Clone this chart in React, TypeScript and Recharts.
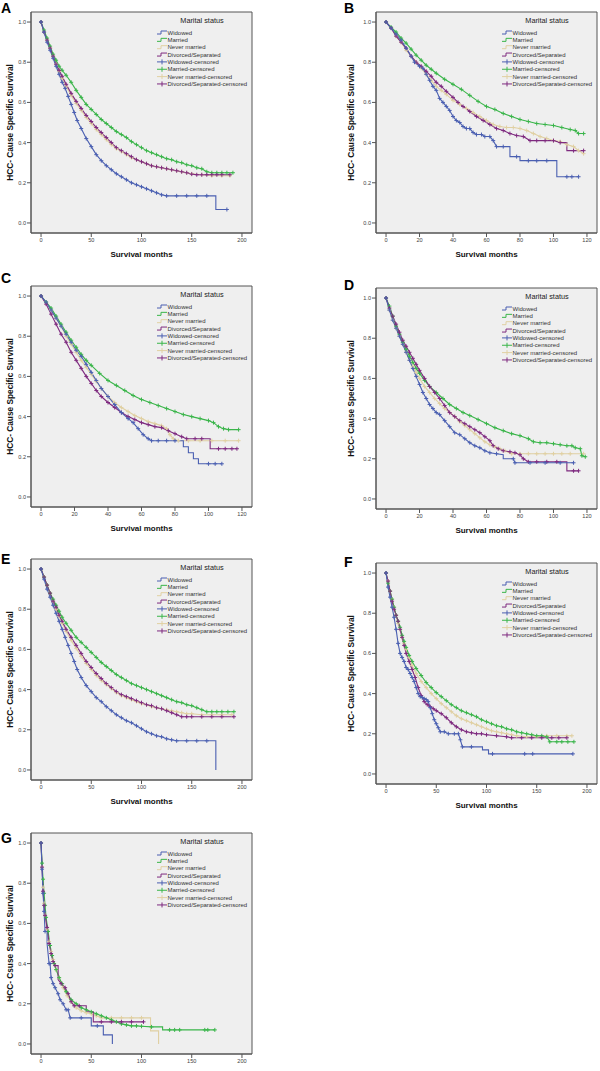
import React from 'react';
import { LineChart, Line, XAxis, YAxis, CartesianGrid, ReferenceArea, Label } from 'recharts';

type Pt = [number, number];

const seriesNames = ['Widowed', 'Married', 'Never married', 'Divorced/Separated'];
const legendLabels = [...seriesNames, ...seriesNames.map((n) => n + '-censored')];
const xTicks200 = [0, 50, 100, 150, 200];
const xTicks120 = [0, 20, 40, 60, 80, 100, 120];
const yTicks = [0, 0.2, 0.4, 0.6, 0.8, 1.0];

// ---------- Panel A ----------
const A_widowed: Pt[] = [[0,1],[3,0.95],[6,0.9],[9,0.86],[12,0.82],[15,0.78],[18,0.74],[21,0.7],[24,0.67],[27,0.63],[30,0.59],[33,0.55],[36,0.51],[40,0.47],[45,0.42],[50,0.38],[55,0.34],[60,0.31],[65,0.285],[70,0.265],[75,0.245],[80,0.23],[85,0.215],[90,0.2],[95,0.19],[100,0.18],[105,0.17],[110,0.16],[115,0.15],[120,0.14],[125,0.135],[135,0.135],[145,0.135],[155,0.135],[165,0.135],[174,0.135],[174,0.067],[185,0.067]];
const A_married: Pt[] = [[0,1],[3,0.96],[6,0.92],[9,0.88],[12,0.84],[15,0.81],[18,0.78],[21,0.76],[25,0.735],[30,0.7],[35,0.66],[40,0.625],[45,0.59],[50,0.565],[55,0.54],[60,0.515],[65,0.495],[70,0.475],[75,0.455],[80,0.44],[85,0.425],[90,0.405],[95,0.39],[100,0.375],[105,0.36],[110,0.35],[115,0.34],[120,0.33],[125,0.32],[130,0.315],[135,0.305],[140,0.3],[145,0.29],[150,0.285],[155,0.275],[160,0.27],[165,0.255],[170,0.25],[175,0.25],[180,0.25],[185,0.25],[191,0.25]];
const A_never: Pt[] = [[0,1],[3,0.95],[6,0.91],[9,0.87],[12,0.83],[15,0.79],[18,0.755],[21,0.72],[25,0.68],[30,0.635],[35,0.595],[40,0.56],[45,0.525],[50,0.495],[55,0.465],[60,0.44],[65,0.415],[70,0.39],[75,0.37],[80,0.355],[85,0.34],[90,0.325],[95,0.315],[100,0.305],[105,0.295],[110,0.285],[115,0.28],[120,0.275],[125,0.27],[130,0.265],[135,0.26],[140,0.255],[145,0.25],[150,0.245],[160,0.24],[170,0.235],[180,0.235],[188,0.235]];
const A_divorced: Pt[] = [[0,1],[3,0.95],[6,0.91],[9,0.87],[12,0.83],[15,0.79],[18,0.76],[21,0.73],[25,0.69],[30,0.645],[35,0.605],[40,0.57],[45,0.535],[50,0.505],[55,0.475],[60,0.45],[65,0.425],[70,0.4],[75,0.375],[80,0.36],[85,0.345],[90,0.33],[95,0.315],[100,0.305],[105,0.295],[110,0.285],[115,0.28],[120,0.275],[125,0.27],[130,0.265],[135,0.26],[140,0.255],[145,0.25],[150,0.243],[155,0.24],[160,0.24],[165,0.24],[170,0.24],[175,0.24],[180,0.24],[188,0.24]];

// ---------- Panel B ----------
const B_widowed: Pt[] = [[0,1],[3,0.97],[6,0.94],[9,0.91],[12,0.87],[15,0.83],[17,0.8],[20,0.78],[22,0.77],[24,0.74],[26,0.71],[28,0.68],[30,0.66],[32,0.62],[34,0.6],[36,0.58],[38,0.56],[40,0.53],[42,0.51],[44,0.5],[46,0.48],[48,0.47],[50,0.47],[52,0.45],[54,0.44],[57,0.44],[59,0.43],[62,0.43],[64,0.41],[66,0.38],[70,0.38],[74,0.38],[74,0.33],[78,0.33],[80,0.33],[80,0.31],[85,0.31],[90,0.31],[96,0.31],[102,0.31],[102,0.23],[108,0.23],[111,0.23],[115,0.23]];
const B_married: Pt[] = [[0,1],[3,0.975],[6,0.95],[9,0.92],[12,0.895],[15,0.865],[18,0.835],[21,0.81],[24,0.785],[27,0.765],[30,0.745],[35,0.715],[40,0.69],[45,0.665],[50,0.635],[55,0.605],[60,0.58],[65,0.565],[70,0.545],[75,0.53],[80,0.515],[85,0.505],[90,0.495],[95,0.49],[100,0.485],[105,0.475],[110,0.465],[113,0.46],[115,0.445],[118,0.445]];
const B_never: Pt[] = [[0,1],[3,0.97],[6,0.93],[9,0.9],[12,0.86],[15,0.83],[18,0.8],[21,0.77],[24,0.74],[27,0.71],[30,0.68],[33,0.66],[36,0.64],[40,0.61],[44,0.59],[48,0.57],[52,0.55],[56,0.53],[60,0.51],[64,0.49],[68,0.48],[72,0.475],[76,0.475],[80,0.47],[84,0.46],[88,0.445],[92,0.43],[96,0.42],[100,0.41],[104,0.405],[108,0.39],[112,0.38],[115,0.36],[118,0.345]];
const B_divorced: Pt[] = [[0,1],[3,0.97],[6,0.93],[9,0.9],[12,0.87],[15,0.83],[18,0.8],[21,0.78],[24,0.755],[27,0.73],[30,0.7],[33,0.68],[36,0.655],[40,0.625],[43,0.6],[46,0.58],[50,0.555],[54,0.53],[58,0.51],[62,0.49],[66,0.47],[70,0.46],[74,0.445],[78,0.435],[82,0.43],[86,0.41],[90,0.41],[95,0.41],[100,0.41],[104,0.4],[108,0.4],[108,0.36],[112,0.36],[118,0.36]];

// ---------- Panel C ----------
const C_widowed: Pt[] = [[0,1],[3,0.97],[6,0.93],[9,0.89],[12,0.85],[15,0.81],[18,0.77],[21,0.73],[24,0.7],[27,0.66],[30,0.62],[33,0.58],[36,0.54],[40,0.5],[44,0.46],[48,0.42],[52,0.39],[55,0.37],[58,0.34],[61,0.31],[64,0.29],[66,0.28],[70,0.28],[75,0.28],[80,0.28],[85,0.28],[85,0.25],[88,0.25],[88,0.22],[91,0.22],[91,0.19],[94,0.19],[94,0.165],[100,0.165],[104,0.165],[108,0.165]];
const C_married: Pt[] = [[0,1],[3,0.97],[6,0.94],[9,0.9],[12,0.86],[15,0.82],[18,0.78],[21,0.745],[24,0.71],[27,0.68],[30,0.655],[35,0.615],[40,0.58],[45,0.555],[50,0.53],[55,0.505],[60,0.485],[65,0.47],[70,0.455],[75,0.44],[80,0.425],[85,0.41],[90,0.4],[95,0.39],[100,0.38],[103,0.37],[106,0.35],[109,0.34],[112,0.335],[118,0.335]];
const C_never: Pt[] = [[0,1],[3,0.97],[6,0.93],[9,0.89],[12,0.85],[15,0.8],[18,0.76],[21,0.72],[24,0.68],[27,0.645],[30,0.61],[33,0.575],[36,0.54],[40,0.5],[44,0.47],[48,0.445],[52,0.425],[56,0.405],[60,0.39],[64,0.375],[68,0.365],[72,0.355],[75,0.34],[77,0.31],[79,0.29],[82,0.28],[88,0.28],[95,0.28],[102,0.28],[110,0.28],[118,0.28]];
const C_divorced: Pt[] = [[0,1],[3,0.96],[6,0.91],[9,0.86],[12,0.81],[15,0.77],[18,0.72],[21,0.68],[24,0.64],[27,0.6],[30,0.565],[33,0.53],[36,0.5],[40,0.47],[44,0.445],[48,0.42],[52,0.4],[56,0.385],[60,0.37],[64,0.36],[68,0.35],[72,0.345],[76,0.33],[80,0.315],[84,0.3],[87,0.29],[92,0.29],[96,0.29],[101,0.29],[101,0.24],[106,0.24],[110,0.24],[114,0.24],[117,0.24]];

// ---------- Panel D ----------
const D_widowed: Pt[] = [[0,1],[2,0.94],[4,0.89],[6,0.85],[8,0.81],[10,0.77],[12,0.73],[14,0.69],[16,0.65],[18,0.61],[20,0.57],[22,0.53],[24,0.5],[26,0.47],[28,0.45],[30,0.43],[32,0.42],[35,0.39],[38,0.36],[41,0.33],[44,0.32],[47,0.3],[50,0.28],[53,0.265],[56,0.255],[59,0.24],[62,0.23],[66,0.225],[70,0.22],[70,0.2],[76,0.2],[77,0.18],[86,0.18],[95,0.18],[104,0.18],[112,0.18]];
const D_married: Pt[] = [[0,1],[2,0.96],[4,0.91],[6,0.86],[8,0.82],[10,0.78],[12,0.745],[14,0.71],[16,0.68],[18,0.65],[20,0.625],[23,0.59],[26,0.56],[30,0.53],[34,0.5],[38,0.47],[42,0.45],[46,0.43],[50,0.415],[55,0.395],[60,0.375],[65,0.355],[70,0.34],[75,0.325],[80,0.315],[85,0.3],[88,0.285],[92,0.28],[96,0.28],[100,0.275],[104,0.27],[108,0.265],[111,0.265],[113,0.255],[116,0.25],[117,0.215],[119,0.21]];
const D_never: Pt[] = [[0,1],[2,0.94],[4,0.89],[6,0.85],[8,0.81],[10,0.77],[12,0.73],[14,0.69],[16,0.66],[18,0.63],[20,0.6],[23,0.56],[26,0.53],[29,0.5],[32,0.475],[35,0.45],[38,0.43],[41,0.41],[44,0.385],[47,0.365],[50,0.345],[53,0.325],[56,0.305],[59,0.285],[62,0.27],[65,0.26],[68,0.25],[71,0.24],[75,0.225],[80,0.225],[85,0.225],[90,0.225],[95,0.225],[100,0.225],[105,0.225],[110,0.225],[118,0.225]];
const D_divorced: Pt[] = [[0,1],[2,0.95],[4,0.91],[6,0.87],[8,0.83],[10,0.79],[12,0.76],[14,0.73],[16,0.7],[18,0.67],[20,0.64],[23,0.6],[26,0.56],[29,0.53],[32,0.5],[35,0.465],[38,0.43],[41,0.41],[44,0.39],[47,0.375],[50,0.36],[53,0.345],[56,0.33],[59,0.31],[62,0.29],[64,0.265],[67,0.25],[70,0.24],[74,0.235],[77,0.23],[80,0.22],[82,0.2],[85,0.185],[90,0.185],[96,0.185],[102,0.185],[108,0.185],[108,0.14],[112,0.14],[115,0.14]];

// ---------- Panel E ----------
const E_widowed: Pt[] = [[0,1],[3,0.95],[6,0.9],[9,0.86],[12,0.82],[15,0.78],[18,0.74],[21,0.7],[24,0.66],[27,0.62],[30,0.58],[33,0.54],[36,0.5],[40,0.46],[45,0.42],[50,0.39],[55,0.36],[60,0.34],[65,0.315],[70,0.295],[75,0.275],[80,0.26],[85,0.245],[90,0.235],[95,0.22],[100,0.205],[105,0.19],[110,0.18],[115,0.17],[120,0.165],[125,0.155],[130,0.15],[135,0.145],[145,0.145],[155,0.145],[165,0.145],[174,0.145],[174,0]];
const E_married: Pt[] = [[0,1],[3,0.96],[6,0.92],[9,0.88],[12,0.85],[15,0.82],[18,0.79],[21,0.76],[25,0.73],[30,0.695],[35,0.66],[40,0.635],[45,0.61],[50,0.585],[55,0.56],[60,0.535],[65,0.515],[70,0.495],[75,0.475],[80,0.46],[85,0.445],[90,0.43],[95,0.42],[100,0.41],[105,0.4],[110,0.39],[115,0.38],[120,0.37],[125,0.36],[130,0.35],[135,0.34],[140,0.335],[145,0.325],[150,0.32],[155,0.31],[160,0.3],[165,0.29],[170,0.29],[175,0.29],[180,0.29],[186,0.29],[192,0.29]];
const E_never: Pt[] = [[0,1],[3,0.96],[6,0.92],[9,0.88],[12,0.84],[15,0.8],[18,0.765],[21,0.73],[25,0.69],[30,0.645],[35,0.605],[40,0.565],[45,0.53],[50,0.5],[55,0.47],[60,0.445],[65,0.425],[70,0.405],[75,0.385],[80,0.37],[85,0.36],[90,0.35],[95,0.34],[100,0.33],[105,0.325],[110,0.315],[115,0.31],[120,0.305],[125,0.3],[130,0.295],[135,0.29],[140,0.285],[145,0.28],[150,0.28],[160,0.275],[170,0.275],[180,0.275],[190,0.275]];
const E_divorced: Pt[] = [[0,1],[3,0.96],[6,0.92],[9,0.88],[12,0.84],[15,0.81],[18,0.77],[21,0.74],[25,0.7],[30,0.66],[35,0.62],[40,0.58],[45,0.54],[50,0.51],[55,0.48],[60,0.455],[65,0.43],[70,0.41],[75,0.39],[80,0.375],[85,0.365],[90,0.355],[95,0.345],[100,0.335],[105,0.325],[110,0.32],[115,0.31],[120,0.305],[125,0.295],[130,0.285],[135,0.275],[140,0.265],[145,0.265],[150,0.265],[160,0.265],[170,0.265],[180,0.265],[192,0.265]];

// ---------- Panel F ----------
const F_widowed: Pt[] = [[0,1],[2,0.93],[4,0.88],[6,0.83],[8,0.78],[10,0.72],[12,0.65],[14,0.6],[16,0.58],[18,0.56],[20,0.53],[22,0.52],[24,0.5],[26,0.48],[28,0.46],[30,0.43],[32,0.4],[34,0.385],[36,0.38],[38,0.375],[40,0.37],[42,0.36],[44,0.33],[46,0.3],[48,0.27],[50,0.25],[52,0.23],[54,0.21],[58,0.21],[62,0.2],[68,0.2],[72,0.2],[74,0.17],[76,0.135],[85,0.135],[96,0.135],[96,0.12],[102,0.12],[102,0.1],[106,0.1],[138,0.1],[146,0.1],[186,0.1]];
const F_married: Pt[] = [[0,1],[2,0.95],[4,0.91],[6,0.87],[8,0.83],[10,0.79],[12,0.76],[14,0.73],[16,0.69],[18,0.66],[20,0.63],[23,0.59],[26,0.56],[30,0.525],[35,0.49],[40,0.455],[45,0.43],[50,0.405],[55,0.385],[60,0.365],[65,0.345],[70,0.33],[75,0.315],[80,0.305],[85,0.295],[90,0.285],[95,0.27],[100,0.26],[105,0.25],[110,0.24],[115,0.235],[120,0.225],[125,0.22],[130,0.21],[135,0.205],[140,0.2],[145,0.195],[150,0.19],[155,0.19],[160,0.185],[163,0.16],[170,0.16],[175,0.16],[181,0.16],[187,0.16]];
const F_never: Pt[] = [[0,1],[2,0.96],[4,0.91],[6,0.87],[8,0.83],[10,0.79],[12,0.75],[14,0.72],[16,0.68],[18,0.65],[20,0.62],[23,0.58],[26,0.54],[30,0.5],[35,0.46],[40,0.43],[45,0.4],[50,0.375],[55,0.35],[60,0.33],[65,0.31],[70,0.29],[75,0.275],[80,0.265],[85,0.255],[90,0.245],[95,0.235],[100,0.225],[105,0.215],[110,0.21],[115,0.205],[120,0.2],[125,0.195],[130,0.19],[140,0.185],[150,0.185],[160,0.19],[170,0.19],[180,0.19],[185,0.19]];
const F_divorced: Pt[] = [[0,1],[2,0.96],[4,0.91],[6,0.86],[8,0.82],[10,0.79],[12,0.76],[14,0.72],[16,0.68],[18,0.64],[20,0.6],[23,0.56],[26,0.52],[29,0.48],[32,0.43],[35,0.39],[38,0.36],[41,0.345],[44,0.335],[47,0.325],[50,0.315],[55,0.3],[60,0.28],[65,0.255],[70,0.235],[75,0.22],[80,0.21],[85,0.205],[90,0.2],[95,0.2],[100,0.195],[110,0.19],[120,0.185],[125,0.18],[135,0.18],[145,0.18],[155,0.18],[165,0.18],[172,0.18],[180,0.18]];

// ---------- Panel G ----------
const G_widowed: Pt[] = [[0,1],[1,0.87],[2,0.75],[3,0.66],[4,0.56],[6,0.56],[6,0.5],[8,0.4],[9,0.4],[10,0.33],[12,0.3],[14,0.28],[17,0.25],[19,0.22],[22,0.2],[25,0.17],[27,0.17],[29,0.13],[40,0.13],[50,0.13],[50,0.09],[56,0.09],[62,0.09],[62,0.045],[71,0.045],[71,0]];
const G_married: Pt[] = [[0,1],[1,0.9],[2,0.82],[3,0.75],[4,0.69],[5,0.63],[7,0.56],[9,0.49],[11,0.44],[13,0.4],[15,0.37],[18,0.33],[21,0.3],[25,0.26],[30,0.22],[35,0.2],[40,0.18],[45,0.17],[50,0.16],[55,0.15],[60,0.14],[65,0.13],[70,0.12],[75,0.11],[80,0.1],[85,0.095],[90,0.09],[95,0.09],[100,0.088],[110,0.085],[121,0.085],[121,0.07],[128,0.07],[133,0.07],[138,0.07],[163,0.07],[166,0.07],[173,0.07]];
const G_never: Pt[] = [[0,1],[1,0.88],[2,0.78],[3,0.7],[4,0.64],[6,0.57],[8,0.51],[10,0.46],[12,0.42],[15,0.37],[18,0.33],[22,0.28],[26,0.24],[30,0.21],[35,0.18],[40,0.165],[45,0.155],[50,0.15],[55,0.14],[60,0.13],[70,0.13],[80,0.13],[90,0.13],[100,0.13],[109,0.13],[109,0.065],[117,0.065],[117,0]];
const G_divorced: Pt[] = [[0,1],[1,0.88],[2,0.76],[3,0.69],[4,0.64],[6,0.58],[8,0.5],[10,0.45],[12,0.41],[14,0.39],[17,0.39],[17,0.32],[20,0.3],[24,0.28],[27,0.25],[30,0.21],[33,0.19],[38,0.19],[45,0.19],[45,0.16],[52,0.16],[52,0.11],[60,0.11],[70,0.11],[80,0.11],[90,0.11],[102,0.11]];

const COLORS = ['#4a5fb1', '#3ab54a', '#e0d0a2', '#7e2a7f']; // widowed, married, never, divorced
const DRAW_ORDER = [2, 1, 3, 0];

const FRAME_W = 221;
const FRAME_H = 221;
const YAXIS_W = 31;
const XAXIS_H = 32;
const MT = 2;
const MR = 3;

type Panel = {
  letter: string; fl: number; y1: number; range: 200 | 120; lx: number; ly: number;
  ylabel: string; ylx: number; xlabel: boolean; series: Pt[][];
};

const panels: Panel[] = [
  { letter: 'A', fl: 31, y1: 22, range: 200, lx: 1, ly: 13, ylabel: 'HCC- Cause Specific Survival', ylx: 10, xlabel: true, series: [A_widowed, A_married, A_never, A_divorced] },
  { letter: 'B', fl: 376, y1: 22, range: 120, lx: 344, ly: 13, ylabel: 'HCC- Cause Specific Survival', ylx: 5.5, xlabel: true, series: [B_widowed, B_married, B_never, B_divorced] },
  { letter: 'C', fl: 31, y1: 296, range: 120, lx: 1, ly: 283, ylabel: 'HCC- Cause Specific Survival', ylx: 10, xlabel: true, series: [C_widowed, C_married, C_never, C_divorced] },
  { letter: 'D', fl: 376, y1: 298, range: 120, lx: 344, ly: 290, ylabel: 'HCC- Cause Specific Survival', ylx: 5.5, xlabel: true, series: [D_widowed, D_married, D_never, D_divorced] },
  { letter: 'E', fl: 31, y1: 569, range: 200, lx: 1, ly: 564, ylabel: 'HCC- Cause Specific Survival', ylx: 10, xlabel: true, series: [E_widowed, E_married, E_never, E_divorced] },
  { letter: 'F', fl: 376, y1: 573, range: 200, lx: 344, ly: 567, ylabel: 'HCC- Cause Specific Survival', ylx: 5.5, xlabel: true, series: [F_widowed, F_married, F_never, F_divorced] },
  { letter: 'G', fl: 31, y1: 843, range: 200, lx: 1, ly: 843, ylabel: 'HCC- Csuse Specific Survival', ylx: 10, xlabel: false, series: [G_widowed, G_married, G_never, G_divorced] },
];

const FONT = "'Liberation Sans', Arial, sans-serif";

function toData(pts: Pt[]) {
  return pts.map(([t, s], i) => ({
    t,
    s,
    corner: (i > 0 && pts[i - 1][0] === t) || (i < pts.length - 1 && pts[i + 1][0] === t),
  }));
}

const crossDot = (color: string) => (props: any) => {
  const { cx, cy, index, payload } = props;
  if (cx == null || cy == null || (payload && payload.corner)) return <g key={`n${index}`} />;
  return (
    <path
      key={`c${index}`}
      d={`M${cx - 2},${cy}H${cx + 2}M${cx},${cy - 2}V${cy + 2}`}
      stroke={color}
      strokeWidth={1}
      fill="none"
    />
  );
};

function PanelChart({ p }: { p: Panel }) {
  const frameTop = p.y1 - 10;
  const domainX: [number, number] = p.range === 200 ? [-10, 210] : [-6, 126];
  const ticks = p.range === 200 ? xTicks200 : xTicks120;
  const width = YAXIS_W + FRAME_W + MR;
  const height = MT + FRAME_H + XAXIS_H;
  return (
    <div style={{ position: 'absolute', left: p.fl - YAXIS_W, top: frameTop - MT, width, height }}>
      <LineChart width={width} height={height} margin={{ top: MT, right: MR, bottom: 0, left: 0 }}>
        <CartesianGrid horizontal={false} vertical={false} fill="#efefef" fillOpacity={1} stroke="none" />
        <XAxis
          type="number"
          dataKey="t"
          domain={domainX}
          ticks={ticks}
          allowDataOverflow
          height={XAXIS_H}
          tickSize={4}
          tickMargin={1}
          interval={0}
          stroke="#555"
          tick={{ fontSize: 5.6, fill: '#444', fontFamily: FONT }}
        >
          {p.xlabel ? (
            <Label
              content={() => (
                <text
                  x={YAXIS_W + FRAME_W / 2}
                  y={MT + FRAME_H + 24}
                  textAnchor="middle"
                  fontSize={8}
                  fontWeight="bold"
                  fontFamily={FONT}
                  fill="#111"
                >
                  Survival months
                </text>
              )}
            />
          ) : null}
        </XAxis>
        <YAxis
          type="number"
          domain={[-0.05, 1.05]}
          ticks={yTicks}
          allowDataOverflow
          width={YAXIS_W}
          tickSize={4}
          tickMargin={1}
          interval={0}
          stroke="#555"
          tickFormatter={(v: number) => v.toFixed(1)}
          tick={{ fontSize: 5.6, fill: '#444', fontFamily: FONT }}
        >
          <Label
            content={() => {
              const cx = p.ylx;
              const cy = MT + FRAME_H / 2;
              return (
                <text
                  x={cx}
                  y={cy}
                  transform={`rotate(-90 ${cx} ${cy})`}
                  textAnchor="middle"
                  dominantBaseline="central"
                  fontSize={8.3}
                  fontWeight="bold"
                  fontFamily={FONT}
                  fill="#111"
                >
                  {p.ylabel}
                </text>
              );
            }}
          />
        </YAxis>
        <ReferenceArea
          x1={domainX[0]}
          x2={domainX[1]}
          y1={-0.05}
          y2={1.05}
          fill="none"
          stroke="#555"
          strokeWidth={1}
          ifOverflow="visible"
        />
        {DRAW_ORDER.map((si) => (
          <Line
            key={si}
            data={toData(p.series[si])}
            dataKey="s"
            name={seriesNames[si]}
            type="linear"
            stroke={COLORS[si]}
            strokeWidth={1.1}
            dot={crossDot(COLORS[si])}
            activeDot={false}
            isAnimationActive={false}
          />
        ))}
      </LineChart>
    </div>
  );
}

function Overlay() {
  return (
    <svg
      width={600}
      height={1071}
      style={{ position: 'absolute', left: 0, top: 0, pointerEvents: 'none' }}
    >
      {panels.map((p) => {
        const ft = p.y1 - 10;
        const fl = p.fl;
        return (
          <g key={p.letter} fontFamily={FONT}>
            <text x={p.lx} y={p.ly} fontSize={14} fontWeight="bold" fill="#000">
              {p.letter}
            </text>
            <text x={fl + 171} y={ft + 11.2} fontSize={7.3} textAnchor="middle" fill="#222">
              Marital status
            </text>
            {legendLabels.map((lab, i) => {
              const c = COLORS[i % 4];
              const cy = ft + 20.5 + i * 7.35;
              const sx = fl + 126;
              const sym =
                i < 4
                  ? `M${sx},${cy + 1.5}H${sx + 4}V${cy - 1.5}H${sx + 10}`
                  : `M${sx},${cy}H${sx + 10}M${sx + 5},${cy - 2.5}V${cy + 2.5}`;
              return (
                <g key={lab}>
                  <path d={sym} stroke={c} strokeWidth={1} fill="none" />
                  <text x={fl + 136.5} y={cy + 2.1} fontSize={6} fill="#333">
                    {lab}
                  </text>
                </g>
              );
            })}
          </g>
        );
      })}
    </svg>
  );
}

export default function App() {
  return (
    <div style={{ position: 'absolute', left: 0, top: 0, width: 600, height: 1071, background: '#fff' }}>
      {panels.map((p) => (
        <PanelChart key={p.letter} p={p} />
      ))}
      <Overlay />
    </div>
  );
}
